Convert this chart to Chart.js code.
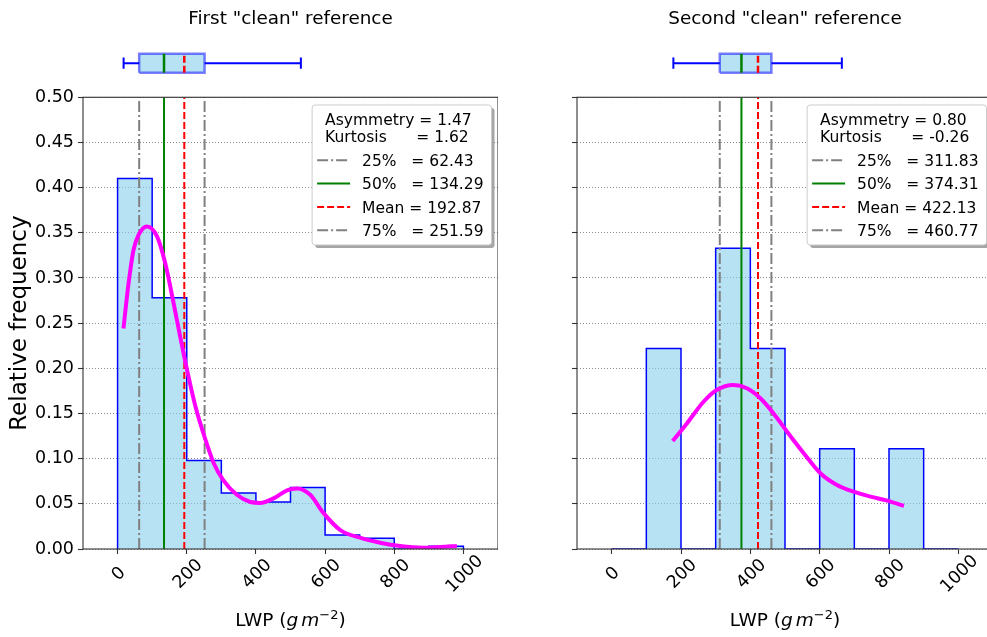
<!DOCTYPE html>
<html>
<head>
<meta charset="utf-8">
<title>LWP histograms</title>
<script src="https://cdn.jsdelivr.net/npm/chart.js@4.4.1/dist/chart.umd.min.js"></script>
<style>
  html, body { margin: 0; padding: 0; background: #fff; overflow: hidden; }
  #wrap { position: relative; width: 987px; height: 637px; overflow: hidden; }
  canvas { position: absolute; top: 0; }
  #left { left: 0; }
  #right { left: 530px; }
</style>
</head>
<body>
<div id="wrap">
  <canvas id="left" width="498" height="637"></canvas>
  <canvas id="right" width="463" height="637"></canvas>
</div>
<script>
// histogram bins (LWP, g m-2) and relative frequencies
const binEdges = [0, 100, 200, 300, 400, 500, 600, 700, 800, 900, 1000];
const firstFreq = [0.410, 0.278, 0.098, 0.062, 0.052, 0.068, 0.0155, 0.012, 0.0, 0.003];
const secondFreq = [0.0, 0.222, 0.0, 0.333, 0.222, 0.0, 0.111, 0.0, 0.111, 0.0];

// kernel density curves
const firstKdeX = [17, 27, 37, 46, 61, 85, 114, 138, 162, 181, 201, 225, 254, 278, 306, 345, 384, 412, 451, 490, 519, 557, 595, 644, 701, 759, 817, 885, 933, 981];
const firstKdeY = [0.244, 0.279, 0.309, 0.331, 0.348, 0.357, 0.346, 0.316, 0.272, 0.235, 0.198, 0.158, 0.121, 0.095, 0.076, 0.060, 0.052, 0.051, 0.056, 0.065, 0.067, 0.060, 0.040, 0.021, 0.0125, 0.007, 0.0033, 0.0015, 0.0022, 0.0033];
const secondKdeX = [176, 217, 265, 303, 351, 390, 429, 467, 506, 554, 602, 650, 698, 747, 795, 843];
const secondKdeY = [0.1195, 0.139, 0.163, 0.176, 0.1815, 0.178, 0.1668, 0.150, 0.1298, 0.106, 0.0838, 0.0708, 0.0634, 0.0579, 0.0535, 0.0476];

// statistics: 25%, 50%, mean, 75%
const statNames = ['25%   ', '50%   ', 'Mean ', '75%   '];
const firstStats = [62.43, 134.29, 192.87, 251.59];
const secondStats = [311.83, 374.31, 422.13, 460.77];
const firstWhiskers = [17.4, 530];
const secondWhiskers = [178, 664];
const firstShape = [1.47, 1.62];   // asymmetry, kurtosis
const secondShape = [0.80, -0.26];

const titles = ['First "clean" reference', 'Second "clean" reference'];
const xTicks = [0, 200, 400, 600, 800, 1000];
const xTickLabels = ['0', '200', '400', '600', '800', '1000'];
const yTicks = [0, 0.05, 0.10, 0.15, 0.20, 0.25, 0.30, 0.35, 0.40, 0.45, 0.50];
const yTickLabels = ['0.00', '0.05', '0.10', '0.15', '0.20', '0.25', '0.30', '0.35', '0.40', '0.45', '0.50'];

const FONT = '"DejaVu Sans", sans-serif';
Chart.defaults.font.family = FONT;
Chart.defaults.color = '#000';
Chart.defaults.animation = false;

const statColors = ['#808080', '#008000', '#ff0000', '#808080'];
const statDashes = [[11, 3, 2, 3], [], [7, 3], [11, 3, 2, 3]];
const HIST_FILL = 'rgba(135,206,235,0.6)';

// box plot placement on its own small axis above the histogram
const BOX_LEVEL = 0.54, BOX_HALF = 0.15, CAP_HALF = 0.09;

function histSteps(freq) {
  const pts = [{ x: binEdges[0], y: 0 }];
  freq.forEach((f, i) => pts.push({ x: binEdges[i], y: f }));
  pts.push({ x: binEdges[binEdges.length - 1], y: 0 });
  return pts;
}

function boxDatasets(stats, whiskers) {
  const [q1, q2, mean, q3] = stats;
  const lo = BOX_LEVEL - BOX_HALF, hi = BOX_LEVEL + BOX_HALF;
  const seg = (pts, extra) => Object.assign({
    data: pts, yAxisID: 'yb', pointRadius: 0, fill: false,
    borderWidth: 2, borderColor: '#0000ff', order: 0
  }, extra || {});
  return [
    seg([{ x: q1, y: lo }, { x: q3, y: lo }, { x: q3, y: hi }, { x: q1, y: hi }, { x: q1, y: lo }],
      { fill: 'shape', backgroundColor: HIST_FILL, borderColor: 'rgba(0,0,255,0.5)', borderWidth: 2.5, order: 1 }),
    seg([{ x: whiskers[0], y: BOX_LEVEL }, { x: q1, y: BOX_LEVEL }]),
    seg([{ x: q3, y: BOX_LEVEL }, { x: whiskers[1], y: BOX_LEVEL }]),
    seg([{ x: whiskers[0], y: BOX_LEVEL - CAP_HALF }, { x: whiskers[0], y: BOX_LEVEL + CAP_HALF }]),
    seg([{ x: whiskers[1], y: BOX_LEVEL - CAP_HALF }, { x: whiskers[1], y: BOX_LEVEL + CAP_HALF }]),
    seg([{ x: q2, y: lo }, { x: q2, y: hi }], { borderColor: '#008000', borderWidth: 2.5 }),
    seg([{ x: mean, y: lo }, { x: mean, y: hi }], { borderColor: '#ff0000', borderWidth: 2.5, borderDash: [7, 3] })
  ];
}

const framePlugin = {
  id: 'frame',
  afterDatasetsDraw(chart) {
    const ctx = chart.ctx, a = chart.chartArea, ys = chart.scales.y;
    ctx.save();
    ctx.strokeStyle = '#333';
    ctx.lineWidth = 1.1;
    ctx.strokeRect(a.left, ys.top, a.right - a.left, ys.bottom - ys.top);
    ctx.restore();
  }
};

const statLegendPlugin = {
  id: 'statLegend',
  afterDraw(chart, args, opts) {
    const ctx = chart.ctx, a = chart.chartArea, ys = chart.scales.y;
    ctx.save();
    ctx.font = '15.5px ' + FONT;
    const titleW = Math.max(...opts.titleLines.map(t => ctx.measureText(t).width));
    const entryW = Math.max(...opts.entries.map(e => ctx.measureText(e.text).width));
    const w = Math.max(titleW + 26, 50 + entryW + 8);
    const h = 140;
    const right = a.right - 6.5, top = ys.top + 7.7, left = right - w;
    ctx.fillStyle = 'rgba(77,77,77,0.5)';
    ctx.beginPath(); ctx.roundRect(left + 3, top + 3, w, h, 3); ctx.fill();
    ctx.fillStyle = '#fff';
    ctx.beginPath(); ctx.roundRect(left, top, w, h, 3); ctx.fill();
    ctx.strokeStyle = '#cccccc'; ctx.lineWidth = 1; ctx.stroke();
    ctx.fillStyle = '#000';
    ctx.textAlign = 'left';
    ctx.textBaseline = 'alphabetic';
    opts.titleLines.forEach((t, i) => ctx.fillText(t, left + 13, top + 20 + i * 16.7));
    opts.entries.forEach((e, i) => {
      const base = top + 61 + i * 23.33;
      ctx.beginPath();
      ctx.setLineDash(e.dash);
      ctx.strokeStyle = e.color;
      ctx.lineWidth = 2;
      ctx.moveTo(left + 5, base - 5.7);
      ctx.lineTo(left + 38, base - 5.7);
      ctx.stroke();
      ctx.setLineDash([]);
      ctx.fillText(e.text, left + 50, base);
    });
    ctx.restore();
  }
};

const xLabelPlugin = {
  id: 'xLabel',
  afterDraw(chart) {
    const ctx = chart.ctx, a = chart.chartArea;
    const size = 18.5;
    const parts = [
      { t: 'LWP (', font: size + 'px ' + FONT, dy: 0, gap: 0 },
      { t: 'g', font: 'italic ' + size + 'px ' + FONT, dy: 0, gap: size * 0.1667 },
      { t: 'm', font: 'italic ' + size + 'px ' + FONT, dy: 0, gap: 0 },
      { t: '\u22122', font: (size * 0.7) + 'px ' + FONT, dy: -7, gap: 0 },
      { t: ')', font: size + 'px ' + FONT, dy: 0, gap: 0 }
    ];
    ctx.save();
    let total = 0;
    parts.forEach(p => { ctx.font = p.font; p.w = ctx.measureText(p.t).width; total += p.w + p.gap; });
    let x = (a.left + a.right) / 2 - total / 2;
    const base = a.bottom + 77;
    ctx.fillStyle = '#000';
    ctx.textAlign = 'left';
    ctx.textBaseline = 'alphabetic';
    parts.forEach(p => {
      ctx.font = p.font;
      ctx.fillText(p.t, x, base + p.dy);
      x += p.w + p.gap;
    });
    ctx.restore();
  }
};

function buildChart(canvasId, p) {
  const datasets = [
    {
      data: histSteps(p.freq), stepped: true, fill: 'origin', backgroundColor: HIST_FILL,
      borderColor: '#0000ff', borderWidth: 1.5, pointRadius: 0, yAxisID: 'y', order: 10
    },
    ...p.stats.map((v, i) => ({
      data: [{ x: v, y: yTicks[0] }, { x: v, y: yTicks[yTicks.length - 1] }],
      borderColor: statColors[i], borderDash: statDashes[i], borderWidth: 2,
      pointRadius: 0, fill: false, yAxisID: 'y', order: 5
    })),
    {
      data: p.kdeX.map((x, i) => ({ x: x, y: p.kdeY[i] })),
      borderColor: '#ff00ff', borderWidth: 4, pointRadius: 0, fill: false,
      cubicInterpolationMode: 'monotone', yAxisID: 'y', order: 2
    },
    ...boxDatasets(p.stats, p.whiskers)
  ];

  return new Chart(document.getElementById(canvasId), {
    type: 'line',
    data: { datasets: datasets },
    options: {
      responsive: false,
      devicePixelRatio: 1,
      events: [],
      layout: { padding: 0 },
      scales: {
        x: {
          type: 'linear', min: -100, max: 1100,
          afterBuildTicks: s => { s.ticks = xTicks.map(v => ({ value: v })); },
          afterFit: s => { s.height = 88; },
          grid: { drawOnChartArea: false, tickLength: 5, tickColor: '#333', tickWidth: 1.1 },
          border: { display: false },
          ticks: {
            autoSkip: false, minRotation: 45, maxRotation: 45, labelOffset: 17, padding: -3,
            font: { size: 17.5 },
            callback: (v, i) => xTickLabels[i] + ' '.repeat(4 - xTickLabels[i].length)
          }
        },
        y: {
          type: 'linear', position: 'left', stack: 'panel', stackWeight: 451.7, min: 0, max: 0.5,
          afterBuildTicks: s => { s.ticks = yTicks.map(v => ({ value: v })); },
          afterFit: s => { s.width = p.axisWidth; },
          grid: {
            color: 'rgba(120,120,120,0.85)', lineWidth: 1,
            tickBorderDash: [], tickColor: '#333', tickLength: 5, tickWidth: 1.1
          },
          border: { display: false, dash: [1, 2] },
          ticks: { display: p.showYLabels, autoSkip: false, padding: 4, font: { size: 17.5 }, callback: (v, i) => yTickLabels[i] },
          title: { display: p.showYLabels, text: 'Relative frequency', font: { size: 23 }, padding: { top: 6, bottom: 0 } }
        },
        yb: {
          type: 'linear', position: 'left', stack: 'panel', stackWeight: 63.2, min: 0, max: 1,
          grid: { display: false }, ticks: { display: false }, border: { display: false }
        }
      },
      plugins: {
        legend: { display: false },
        tooltip: { enabled: false },
        title: {
          display: true, text: p.title, fullSize: false, color: '#000',
          font: { size: 18.4, weight: 'normal' }, padding: { top: 8, bottom: 4 }
        },
        statLegend: {
          titleLines: ['Asymmetry = ' + p.shape[0].toFixed(2), 'Kurtosis      = ' + p.shape[1].toFixed(2)],
          entries: p.stats.map((v, i) => ({ text: statNames[i] + '= ' + v.toFixed(2), color: statColors[i], dash: statDashes[i] }))
        }
      }
    },
    plugins: [framePlugin, statLegendPlugin, xLabelPlugin]
  });
}

buildChart('left', {
  title: titles[0], freq: firstFreq, kdeX: firstKdeX, kdeY: firstKdeY,
  stats: firstStats, whiskers: firstWhiskers, shape: firstShape,
  axisWidth: 83, showYLabels: true
});
buildChart('right', {
  title: titles[1], freq: secondFreq, kdeX: secondKdeX, kdeY: secondKdeY,
  stats: secondStats, whiskers: secondWhiskers, shape: secondShape,
  axisWidth: 47, showYLabels: false
});
</script>
</body>
</html>
